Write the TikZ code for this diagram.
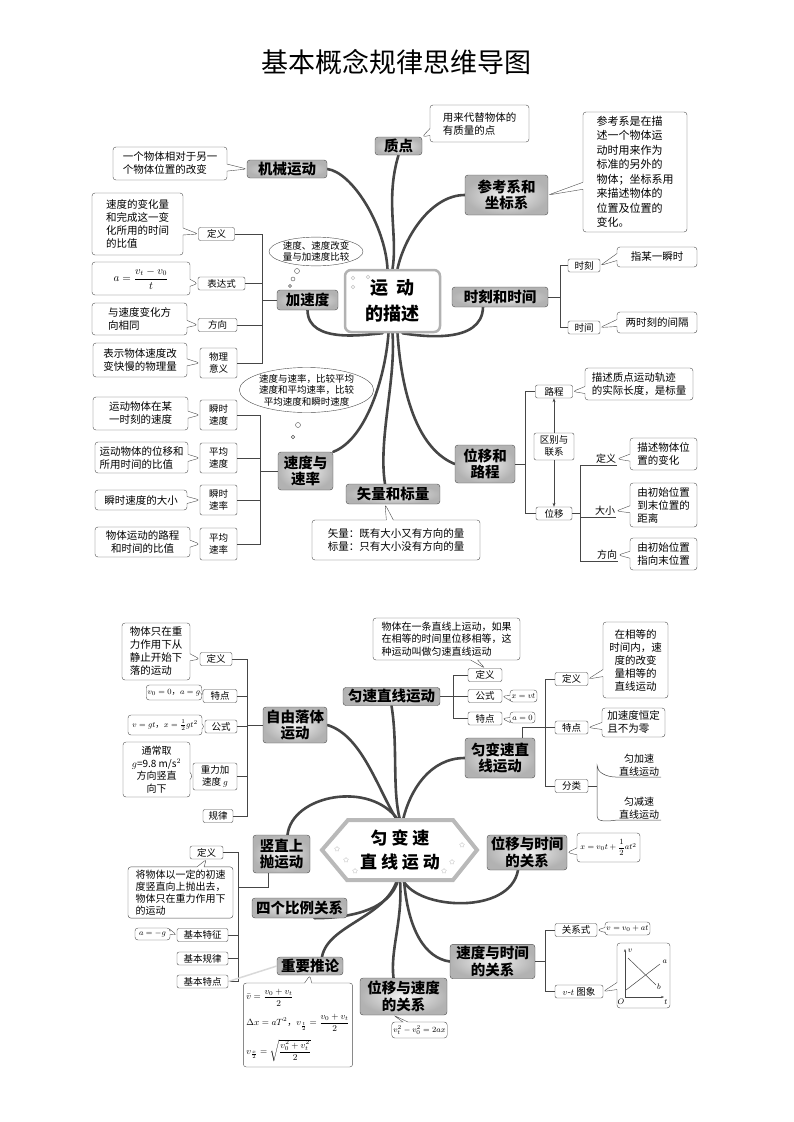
\documentclass[tikz,border=0pt]{standalone}
\usepackage{amsmath}
\usepackage{fontspec}
\setmainfont{Noto Sans CJK SC}
\usetikzlibrary{shapes.callouts,shapes.geometric,arrows.meta}
\pgfdeclarelayer{background}
\pgfsetlayers{background,main}

\tikzset{
  topic/.style={draw=gray!60!black, rounded corners=3pt, inner color=gray!10, outer color=gray!60, align=center, inner sep=2pt, font=\fontsize{14.5}{16.5}\selectfont\bfseries},
  centre/.style={draw=gray!60, line width=2.5pt, rounded corners=6pt, fill=white, align=center, font=\fontsize{18}{26}\selectfont\bfseries},
  sub/.style={draw=gray!60!black, fill=white, rounded corners=2pt, inner sep=1.5pt, minimum height=13pt, align=center, font=\fontsize{9.5}{12}\selectfont},
  leaf/.style={rectangle callout, draw=gray!60!black, fill=white, rounded corners=3pt, callout pointer width=7pt, inner sep=3pt, align=left, font=\fontsize{10.5}{13}\selectfont},
  uline/.style={inner sep=1pt, align=center, font=\fontsize{10}{12.5}\selectfont},
  think/.style={ellipse, draw=gray!60!black, fill=white, inner sep=0pt, align=center, font=\fontsize{9.5}{11.5}\selectfont},
  bubble/.style={circle, draw=gray!60!black, fill=white, inner sep=0pt},
  branch/.style={line width=2.6pt, gray!55!black, line cap=round},
  link/.style={gray!55!black, line width=0.5pt}
}

\begin{document}
\begin{tikzpicture}[x=1pt, y=-1pt]
\useasboundingbox (0,0) rectangle (793,1122);
\node[font=\fontsize{27}{30}\selectfont] (title) at (396.5,62) {基本概念规律思维导图};

%%%%% upper map
\node[centre, minimum width=95pt, minimum height=62pt] (yd) at (392.5,301) {运\ \ 动\\的描述};
\foreach \i/\p in {1/{(353,278)},2/{(368,277)},3/{(353,287)}}
  \node[bubble, draw=gray!50, minimum size=3.5pt] (dc\i) at \p {};

\node[topic, minimum width=47pt, minimum height=18pt] (zd) at (398.5,146) {质点};
\node[topic, minimum width=80pt, minimum height=18pt] (jx) at (287,169) {机械运动};
\node[topic, minimum width=83pt, minimum height=40pt] (ck) at (506.5,195) {参考系和\\坐标系};
\node[topic, minimum width=96pt, minimum height=20pt] (sk) at (500,297) {时刻和时间};
\node[topic, minimum width=61pt, minimum height=20pt] (jsd) at (307.5,300) {加速度};
\node[topic, minimum width=55pt, minimum height=38pt] (sdsl) at (305.5,471) {速度与\\速率};
\node[topic, minimum width=94pt, minimum height=20pt] (slbl) at (393,494) {矢量和标量};
\node[topic, minimum width=60pt, minimum height=38pt] (wylc) at (485,464) {位移和\\路程};

\node[leaf, minimum width=99pt, minimum height=37pt, callout absolute pointer={(zd.north east)}] (zdl) at (479.5,123.5) {用来代替物体的\\有质量的点};
\node[leaf, minimum width=114pt, minimum height=33pt, callout absolute pointer={(jx.west)}] (jxl) at (170,163.5) {一个物体相对于另一\\个物体位置的改变};
\node[leaf, minimum width=104pt, minimum height=120pt, font=\fontsize{11}{14.5}\selectfont, callout absolute pointer={(ck.east)}] (ckl) at (635,172) {参考系是在描\\述一个物体运\\动时用来作为\\标准的另外的\\物体；坐标系用\\来描述物体的\\位置及位置的\\变化。};

% shike e shijian
\node[sub, minimum width=32pt] (shike) at (584,265.5) {时刻};
\node[sub, minimum width=32pt] (shijian) at (584,327.5) {时间};
\node[leaf, minimum width=80pt, minimum height=20pt, callout absolute pointer={(shike.east)}] (shikel) at (657,257) {指某一瞬时};
\node[leaf, minimum width=80pt, minimum height=21pt, callout absolute pointer={(shijian.east)}] (shijianl) at (657,322.5) {两时刻的间隔};
\coordinate (b3) at (560,297);
\draw[link] (shike.west) -- (shike.west -| b3) -- (shijian.west -| b3) -- (shijian.west);
\draw[link] (sk.east) -- (b3);

% jiasudu
\node[think] (ell1) at (316,251.5) {速度、速度改变\\量与加速度比较};
\node[bubble, minimum size=5pt] (bb1) at (297,271) {};
\node[bubble, minimum size=4pt] (bb2) at (293,279) {};
\node[bubble, minimum size=3pt] (bb3) at (290,286) {};
\node[sub, minimum width=36pt] (dy1) at (216.5,234) {定义};
\node[sub, minimum width=47pt] (bds) at (221.5,283.5) {表达式};
\node[sub, minimum width=39pt] (fx1) at (217.5,325) {方向};
\node[sub, minimum width=37pt, minimum height=30pt] (wlyy) at (218.5,363) {物理\\意义};
\node[leaf, minimum width=91pt, minimum height=62pt, callout absolute pointer={(dy1.west)}] (dy1l) at (137.5,224) {速度的变化量\\和完成这一变\\化所用的时间\\的比值};
\node[leaf, minimum width=98pt, minimum height=33pt, align=center, callout absolute pointer={(bds.west)}] (bdsl) at (141,278.5) {$a=\dfrac{v_t-v_0}{t}$};
\node[leaf, minimum width=95pt, minimum height=32pt, callout absolute pointer={(fx1.west)}] (fx1l) at (139.5,319) {与速度变化方\\向相同};
\node[leaf, minimum width=94pt, minimum height=34pt, callout absolute pointer={(wlyy.west)}] (wlyyl) at (140,360) {表示物体速度改\\变快慢的物理量};
\coordinate (b1) at (262,300);
\draw[link] (dy1.east) -- (dy1.east -| b1) -- (wlyy.east -| b1) -- (wlyy.east);
\foreach \n in {bds,fx1} \draw[link] (\n.east) -- (\n.east -| b1);
\draw[link] (jsd.west) -- (b1);

% sudu yu sulv
\node[think] (ell2) at (306.5,390) {速度与速率，比较平均\\速度和平均速率，比较\\平均速度和瞬时速度};
\node[bubble, minimum size=5pt] (bb4) at (298,425) {};
\node[bubble, minimum size=3.5pt] (bb5) at (293,437) {};
\node[sub, minimum width=37pt, minimum height=30pt] (sssd) at (218.5,415) {瞬时\\速度};
\node[sub, minimum width=37pt, minimum height=30pt] (pjsd) at (218.5,458) {平均\\速度};
\node[sub, minimum width=37pt, minimum height=30pt] (sssl) at (218.5,500) {瞬时\\速率};
\node[sub, minimum width=37pt, minimum height=32pt] (pjsl) at (218.5,544) {平均\\速率};
\node[leaf, minimum width=95pt, minimum height=33pt, callout absolute pointer={(sssd.west)}] (sssdl) at (140.5,413.5) {运动物体在某\\一时刻的速度};
\node[leaf, minimum width=93pt, minimum height=31pt, callout absolute pointer={(pjsd.west)}] (pjsdl) at (141.5,457.5) {运动物体的位移和\\所用时间的比值};
\node[leaf, minimum width=92pt, minimum height=20pt, callout absolute pointer={(sssl.west)}] (sssll) at (141,500) {瞬时速度的大小};
\node[leaf, minimum width=95pt, minimum height=30pt, align=center, callout absolute pointer={(pjsl.west)}] (pjsll) at (142.5,542) {物体运动的路程\\和时间的比值};
\coordinate (b2) at (260,471);
\draw[link] (sssd.east) -- (sssd.east -| b2) -- (pjsl.east -| b2) -- (pjsl.east);
\foreach \n in {pjsd,sssl} \draw[link] (\n.east) -- (\n.east -| b2);
\draw[link] (sdsl.west) -- (b2);

% shiliang
\node[leaf, minimum width=168pt, minimum height=40pt, callout absolute pointer={([xshift=-8pt]slbl.south)}] (slbll) at (396,540) {矢量：既有大小又有方向的量\\标量：只有大小没有方向的量};

% weiyi he lucheng
\node[sub, minimum width=37pt] (lc) at (554,391.5) {路程};
\node[sub, minimum width=40pt, minimum height=27pt] (qb) at (554,446.5) {区别与\\联系};
\node[sub, minimum width=36pt] (wy) at (554,513.5) {位移};
\node[leaf, minimum width=108pt, minimum height=32pt, callout absolute pointer={(lc.east)}] (lcl) at (639,384) {描述质点运动轨迹\\的实际长度，是标量};
\coordinate (b4) at (525,464);
\draw[link] (lc.west) -- (lc.west -| b4) -- (wy.west -| b4) -- (wy.west);
\draw[link] (wylc.east) -- (b4);
\draw[link, -{Stealth[length=4pt]}] (qb.north) -- (lc.south);
\draw[link, -{Stealth[length=4pt]}] (qb.south) -- (wy.north);
\node[uline] (dy2) at (606,459) {定义};
\node[uline] (dx) at (605,511) {大小};
\node[uline] (fx2) at (607,555) {方向};
\node[leaf, minimum width=67pt, minimum height=32pt, callout absolute pointer={(dy2.east)}] (dy2l) at (663.5,454) {描述物体位\\置的变化};
\node[leaf, minimum width=67pt, minimum height=44pt, callout absolute pointer={(dx.east)}] (dxl) at (663.5,505) {由初始位置\\到末位置的\\距离};
\node[leaf, minimum width=67pt, minimum height=32pt, callout absolute pointer={(fx2.east)}] (fx2l) at (663.5,554) {由初始位置\\指向末位置};
\coordinate (b5) at (580,513.5);
\draw[link] (dy2.south east) -- (dy2.south west -| b5) -- (fx2.south west -| b5) -- (fx2.south east);
\draw[link] (dx.south east) -- (dx.south west -| b5);
\draw[link] (wy.east) -- (b5);

\begin{pgfonlayer}{background}
\draw[branch] (jx.east) .. controls (352,172) and (385,225) .. ([xshift=-5pt]yd.north);
\draw[branch] (zd.south) .. controls (385,200) and (398,235) .. (yd.north);
\draw[branch] (ck.west) .. controls (432,195) and (405,235) .. ([xshift=5pt]yd.north);
\draw[branch] (jsd.south) .. controls (308,345) and (368,334) .. ([xshift=-10pt]yd.south);
\draw[branch] (sdsl.north east) .. controls (365,440) and (385,380) .. ([xshift=-4pt]yd.south);
\draw[branch] ([xshift=-8pt]slbl.north) .. controls (378,440) and (396,380) .. (yd.south);
\draw[branch] (wylc.west) .. controls (420,450) and (402,400) .. ([xshift=5pt]yd.south);
\draw[branch] ([xshift=-17pt]sk.south) .. controls (482,345) and (420,336) .. ([xshift=10pt]yd.south);
\end{pgfonlayer}

%%%%% lower map
\draw[gray!55, line width=4pt, fill=white, line join=miter] (322,850) -- (348,820) -- (453,820) -- (477,850) -- (453,880) -- (347,880) -- cycle;
\node[minimum width=155pt, minimum height=60pt, align=center, font=\fontsize{17}{24}\selectfont\bfseries] (ybs) at (400,850) {匀 变 速\\直 线 运 动};
\foreach \i/\p in {1/{(337,849)},2/{(346,860)},4/{(355,871)},5/{(462,845)},6/{(452,862)},7/{(444,871)}}
  \node[star, star points=5, draw=gray!45, inner sep=0pt, minimum size=5pt] (st\i) at \p {};

\node[topic, minimum width=97pt, minimum height=17pt] (yszx) at (391.5,696.5) {匀速直线运动};
\node[topic, minimum width=70pt, minimum height=40pt] (ybszx) at (500,758) {匀变速直\\线运动};
\node[topic, minimum width=64pt, minimum height=36pt] (zyl) at (295,725) {自由落体\\运动};
\node[topic, minimum width=57pt, minimum height=38pt] (szss) at (281.5,854) {竖直上\\抛运动};
\node[topic, minimum width=95pt, minimum height=20pt] (sgbl) at (299.5,908) {四个比例关系};
\node[topic, minimum width=66pt, minimum height=18pt] (zytl) at (310,966) {重要推论};
\node[topic, minimum width=87pt, minimum height=37pt] (wysd) at (403.5,996.5) {位移与速度\\的关系};
\node[topic, minimum width=85pt, minimum height=33pt] (sdsj) at (492.5,961.5) {速度与时间\\的关系};
\node[topic, minimum width=80pt, minimum height=35pt] (wysj) at (527,852.5) {位移与时间\\的关系};

% yunsu zhixian
\node[sub, minimum width=34pt] (dy3) at (485,675) {定义};
\node[sub, minimum width=34pt] (gs1) at (485,696) {公式};
\node[sub, minimum width=34pt] (td1) at (485,718.5) {特点};
\node[leaf, minimum width=147pt, minimum height=42pt, font=\fontsize{10}{12.5}\selectfont, callout absolute pointer={(dy3.north)}] (dy3l) at (446.5,639) {物体在一条直线上运动，如果\\在相等的时间里位移相等，这\\种运动叫做匀速直线运动};
\node[leaf, inner sep=1.5pt, minimum width=27pt, minimum height=12pt, font=\fontsize{8}{9}\selectfont, callout pointer width=5pt, callout absolute pointer={(gs1.east)}] (gs1l) at (523.5,696) {$x=vt$};
\node[leaf, inner sep=1.5pt, minimum width=25pt, minimum height=11pt, font=\fontsize{8}{9}\selectfont, callout pointer width=5pt, callout absolute pointer={(td1.east)}] (td1l) at (522.5,717.5) {$a=0$};
\coordinate (b6) at (453,696.5);
\draw[link] (dy3.west) -- (dy3.west -| b6) -- (td1.west -| b6) -- (td1.west);
\draw[link] (gs1.west) -- (gs1.west -| b6);
\draw[link] (yszx.east) -- (yszx.east -| b6);

% yun biansu zhixian
\node[sub, minimum width=33pt] (dy4) at (571.5,679) {定义};
\node[sub, minimum width=33pt] (td2) at (571.5,727.5) {特点};
\node[sub, minimum width=33pt] (fl) at (571.5,786) {分类};
\node[leaf, minimum width=65pt, minimum height=76pt, align=center, callout absolute pointer={(dy4.east)}] (dy4l) at (635.5,660) {在相等的\\时间内，速\\度的改变\\量相等的\\直线运动};
\node[leaf, minimum width=63pt, minimum height=29pt, callout absolute pointer={(td2.east)}] (td2l) at (633.5,722.5) {加速度恒定\\且不为零};
\node[uline, minimum width=44pt] (yjs) at (639,765) {匀加速\\直线运动};
\node[uline, minimum width=44pt] (yjs2) at (639,808) {匀减速\\直线运动};
\coordinate (b7) at (545,727.5);
\coordinate (c7) at (597,786);
\draw[link] (dy4.west) -- (dy4.west -| b7) -- (fl.west -| b7) -- (fl.west);
\draw[link] ([xshift=22pt]ybszx.north) |- (td2.west);
\draw[link] (fl.east) -- (c7);
\draw[link] (yjs.south east) -- (yjs.south west) .. controls (605,777) and (597,772) .. (597,765) -- (597,816) .. controls (597,821) and (603,822) .. (yjs2.south west) -- (yjs2.south east);

% ziyou luoti
\node[sub, minimum width=32pt] (dy5) at (216,659) {定义};
\node[sub, minimum width=34pt] (td3) at (220,696) {特点};
\node[sub, minimum width=32pt] (gs2) at (221,726.5) {公式};
\node[sub, minimum width=44pt, minimum height=27pt] (zljsd) at (215,776.5) {重力加\\速度 $g$};
\node[sub, minimum width=30pt] (gl) at (218,816) {规律};
\node[leaf, minimum width=68pt, minimum height=57pt, callout absolute pointer={(dy5.west)}] (dy5l) at (156,651.5) {物体只在重\\力作用下从\\静止开始下\\落的运动};
\node[leaf, inner sep=1.5pt, minimum width=52pt, minimum height=15pt, font=\fontsize{8.5}{10}\selectfont, callout pointer width=5pt, callout absolute pointer={(td3.west)}] (td3l) at (174,692.5) {$v_0=0$，$a=g$};
\node[leaf, inner sep=1.5pt, minimum width=74pt, minimum height=20pt, font=\fontsize{8.5}{10}\selectfont, callout pointer width=5pt, callout absolute pointer={(gs2.west)}] (gs2l) at (165,725) {$v=gt$，$x=\frac{1}{2}gt^2$};
\node[leaf, minimum width=67pt, minimum height=55pt, align=center, font=\fontsize{10}{12.5}\selectfont, callout absolute pointer={(zljsd.west)}] (zljsdl) at (156.5,769.5) {通常取\\$g$=9.8 m/s$^2$\\方向竖直\\向下};
\coordinate (b8) at (247,725);
\draw[link] (dy5.east) -- (dy5.east -| b8) -- (gl.east -| b8) -- (gl.east);
\foreach \n in {td3,gs2,zljsd} \draw[link] (\n.east) -- (\n.east -| b8);
\draw[link] (zyl.west) -- (b8);

% shuzhi shangpao
\node[sub, minimum width=33pt] (dy6) at (206.5,852.5) {定义};
\node[sub, minimum width=51pt] (jbtz) at (202.5,935) {基本特征};
\node[sub, minimum width=51pt] (jbgl) at (202.5,958.5) {基本规律};
\node[sub, minimum width=51pt] (jbtd) at (202.5,981.5) {基本特点};
\node[leaf, minimum width=105pt, minimum height=51pt, font=\fontsize{10}{12}\selectfont, callout absolute pointer={(dy6.south)}] (dy6l) at (180.5,892.5) {将物体以一定的初速\\度竖直向上抛出去，\\物体只在重力作用下\\的运动};
\node[leaf, inner sep=1.5pt, minimum width=35pt, minimum height=12pt, font=\fontsize{8.5}{10}\selectfont, callout pointer width=5pt, callout absolute pointer={(jbtz.west)}] (jbtzl) at (152.5,934) {$a=-g$};
\coordinate (b9) at (238,887);
\draw[link] (dy6.east) -- (dy6.east -| b9) -- (jbtd.east -| b9) -- (jbtd.east);
\draw[link] (jbtz.east) -- (jbtz.east -| b9);
\draw[link] (jbgl.east) -- (jbgl.east -| b9);
\draw[link] ([xshift=-13pt]szss.south) |- (b9);
\draw[gray!30, line width=1.5pt] (jbtd.east) -- (zytl.west);

% tuilun e altri
\node[leaf, minimum width=100pt, minimum height=84pt, font=\fontsize{9}{11}\selectfont, callout absolute pointer={(zytl.south)}] (zytll) at (298,1025) {$\bar v=\dfrac{v_0+v_t}{2}$\\[7pt]$\Delta x=aT^2$，$v_{\frac{t}{2}}=\dfrac{v_0+v_t}{2}$\\[7pt]$v_{\frac{x}{2}}=\sqrt{\dfrac{v_0^2+v_t^2}{2}}$};
\node[leaf, inner sep=1.5pt, minimum width=55pt, minimum height=16pt, font=\fontsize{8.5}{10}\selectfont, callout pointer width=5pt, callout absolute pointer={([xshift=-10pt]wysd.south)}] (wysdl) at (419.5,1030) {$v_t^2-v_0^2=2ax$};
\node[leaf, inner sep=1.5pt, minimum width=63pt, minimum height=29pt, font=\fontsize{8.5}{10}\selectfont, callout absolute pointer={(wysj.east)}] (wysjl) at (608.5,847.5) {$x=v_0t+\dfrac{1}{2}at^2$};

% sudu yu shijian
\node[sub, minimum width=42pt] (gxs) at (576,930) {关系式};
\node[sub, minimum width=48pt] (vt) at (579,991.5) {$v$-$t$ 图象};
\node[leaf, inner sep=1.5pt, minimum width=41pt, minimum height=13pt, font=\fontsize{8}{9}\selectfont, callout pointer width=5pt, callout absolute pointer={(gxs.east)}] (gxsl) at (627.5,928.5) {$v=v_0+at$};
\node[leaf, minimum width=53pt, minimum height=65pt, callout absolute pointer={(vt.east)}] (vtl) at (643.5,975.5) {};
\begin{scope}[shift={(625,997)}, font=\fontsize{8}{9}\selectfont]
  \draw[link, -{Stealth[length=3pt]}] (0,0) -- (0,-48);
  \draw[link, -{Stealth[length=3pt]}] (0,0) -- (39,0);
  \draw[link] (1,-7) -- (35,-33);
  \draw[link] (3,-39) -- (31,-12);
  \node (gv) at (5,-46) {$v$};
  \node (ga) at (40,-35) {$a$};
  \node (gb) at (34,-10) {$b$};
  \node (go) at (-4,5) {$O$};
  \node (gt) at (41,5) {$t$};
\end{scope}
\coordinate (b10) at (545,961.5);
\draw[link] (gxs.west) -- (gxs.west -| b10) -- (vt.west -| b10) -- (vt.west);
\draw[link] (sdsj.east) -- (b10);

\begin{pgfonlayer}{background}
\draw[branch] (yszx.south) .. controls (398,745) and (392,790) .. (ybs.north);
\draw[branch] (zyl.east) .. controls (362,735) and (378,790) .. ([xshift=-3pt]ybs.north);
\draw[branch] ([xshift=6pt]szss.north) .. controls (292,795) and (370,780) .. ([xshift=-2pt]ybs.north);
\draw[branch] (ybszx.west) .. controls (430,758) and (410,790) .. ([xshift=3pt]ybs.north);
\draw[branch] ([xshift=3pt]ybs.south) .. controls (418,910) and (510,915) .. ([xshift=-9pt]wysj.south);
\draw[branch] ([xshift=4pt]ybs.south) .. controls (408,930) and (425,958) .. (sdsj.west);
\draw[branch] (ybs.south) .. controls (403,920) and (390,950) .. ([xshift=-10pt]wysd.north);
\draw[branch] ([xshift=-2pt]ybs.south) .. controls (390,910) and (350,918) .. ([xshift=15pt]sgbl.south);
\draw[branch] ([xshift=-3pt]ybs.south) .. controls (385,918) and (328,925) .. ([xshift=12pt]zytl.north);
\end{pgfonlayer}
\end{tikzpicture}
\end{document}
